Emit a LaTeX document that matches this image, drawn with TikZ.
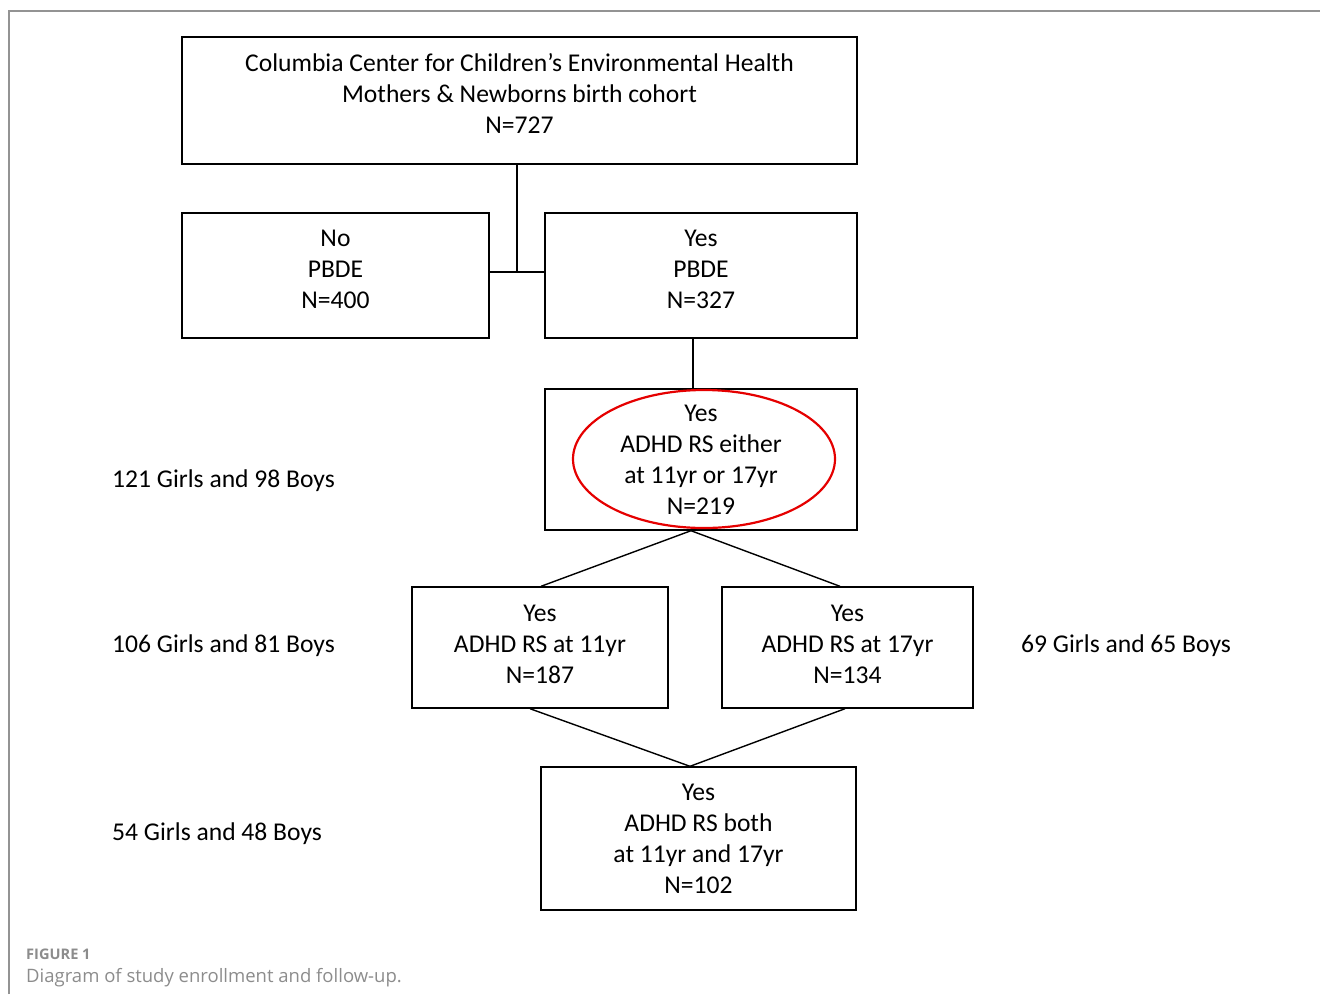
\documentclass[tikz,border=0pt]{standalone}
\usepackage{fontspec}
\usetikzlibrary{shapes.geometric}
\setmainfont{Carlito}
\newfontfamily\capfont{Open Sans}
\begin{document}
\begin{tikzpicture}[x=1pt,y=-1pt,
  box/.style={draw=black,line width=1.4pt,inner sep=0pt},
  txt/.style={align=center,inner sep=0pt,font=\fontsize{25.6}{31}\selectfont},
  side/.style={anchor=west,inner sep=0pt,font=\fontsize{25.6}{31}\selectfont},
  conn/.style={draw=black,line width=1.4pt}]
\useasboundingbox (0,0) rectangle (1320,994);
\draw[draw=gray!85,line width=1.5pt] (9,994) -- (9,11) -- (1320,11);
% boxes
\node[box,minimum width=675pt,minimum height=127pt,label={[txt,yshift=7pt]center:{Columbia Center for Children’s Environmental Health\\Mothers \& Newborns birth cohort\\N=727}}] (top) at (519.5,100.5) {};
\node[box,minimum width=307pt,minimum height=125pt,label={[txt,yshift=6pt]center:{No\\PBDE\\N=400}}] (no) at (335.5,275.5) {};
\node[box,minimum width=312pt,minimum height=125pt,label={[txt,yshift=6pt]center:{Yes\\PBDE\\N=327}}] (yes) at (701,275.5) {};
\node[box,minimum width=312pt,minimum height=141pt,label={[txt,yshift=-0.5pt]center:{Yes\\ADHD RS either\\at 11yr or 17yr\\N=219}}] (either) at (701,459.5) {};
\node[draw=red!90!black,line width=2.2pt,ellipse,minimum width=262pt,minimum height=138pt,inner sep=0pt] (ell) at (704,459) {};
\node[box,minimum width=256pt,minimum height=121pt,label={[txt,yshift=3.5pt]center:{Yes\\ADHD RS at 11yr\\N=187}}] (y11) at (540,647.5) {};
\node[box,minimum width=251pt,minimum height=121pt,label={[txt,yshift=3.5pt]center:{Yes\\ADHD RS at 17yr\\N=134}}] (y17) at (847.5,647.5) {};
\node[box,minimum width=315pt,minimum height=143pt,label={[txt,yshift=-0.5pt]center:{Yes\\ADHD RS both\\at 11yr and 17yr\\N=102}}] (both) at (698.5,838.5) {};
% connectors
\coordinate (j) at (517,272);
\draw[conn] (top.south -| j) -- (j);
\draw[conn] (no.east |- j) -- (yes.west |- j);
\draw[conn] ([xshift=-8pt]yes.south) -- ([xshift=-8pt]either.north);
\draw[conn] ([xshift=-10pt]either.south) -- ([xshift=1pt]y11.north);
\draw[conn] ([xshift=-10pt]either.south) -- ([xshift=-7.5pt]y17.north);
\draw[conn] ([xshift=-10pt]y11.south) -- ([xshift=-8.5pt]both.north);
\draw[conn] ([xshift=-2.5pt]y17.south) -- ([xshift=-8.5pt]both.north);
% side labels
\node[side] (s1) at (112,481) {121 Girls and 98 Boys};
\node[side] (s2) at (112,646) {106 Girls and 81 Boys};
\node[side] (s3) at (112,834) {54 Girls and 48 Boys};
\node[side] (s4) at (1021,646) {69 Girls and 65 Boys};
% caption
\node[anchor=west,inner sep=0pt,text=gray!90,font=\capfont\fontsize{14.6}{16}\selectfont\bfseries] (cap1) at (26,954) {FIGURE 1};
\node[anchor=west,inner sep=0pt,text=gray!90,font=\capfont\fontsize{18.5}{20}\selectfont] (cap2) at (26,978) {Diagram of study enrollment and follow-up.};
\end{tikzpicture}
\end{document}
